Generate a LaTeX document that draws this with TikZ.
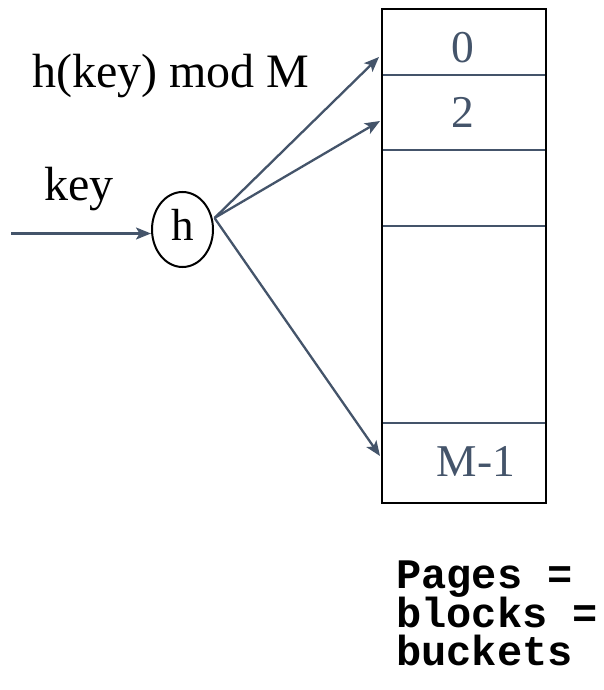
\documentclass[tikz,border=0pt]{standalone}
\usepackage{fontspec}
\setmainfont{Liberation Serif}
\newfontfamily\codefont{Liberation Mono}
\usetikzlibrary{shapes.geometric,arrows.meta}
\definecolor{slate}{HTML}{44546A}

\tikzset{
  lbl/.style={inner sep=0pt, font=\fontsize{48}{52}\selectfont, text=black},
  celltxt/.style={inner sep=0pt, font=\fontsize{45.5}{50}\selectfont, text=slate},
  conn/.style={draw=slate, line width=2.3pt, -{Stealth[length=15pt,width=12pt,inset=3.5pt]}},
  divider/.style={draw=slate, line width=2.3pt},
  hashfn/.style={ellipse, draw=black, line width=2pt, minimum width=61pt, minimum height=75pt,
    inner sep=0pt, font=\fontsize{45}{49}\selectfont, text height=31pt, text depth=10pt},
  bucketbox/.style={rectangle, draw=black, line width=2.8pt, minimum width=164pt, minimum height=494pt, inner sep=0pt},
  note/.style={inner sep=0pt, font=\codefont\bfseries\fontsize{42}{46}\selectfont}
}

\begin{document}
\begin{tikzpicture}[x=1pt, y=-1pt]
  \useasboundingbox (0,0) rectangle (604,690);

  % bucket table
  \node[bucketbox] (table) at (464,256) {};
  \coordinate (d1l) at (383,75);   \coordinate (d1r) at (545,75);
  \coordinate (d2l) at (383,150);  \coordinate (d2r) at (545,150);
  \coordinate (d3l) at (383,226);  \coordinate (d3r) at (545,226);
  \coordinate (d4l) at (383,423);  \coordinate (d4r) at (545,423);
  \draw[divider] (d1l) -- (d1r);
  \draw[divider] (d2l) -- (d2r);
  \draw[divider] (d3l) -- (d3r);
  \draw[divider] (d4l) -- (d4r);

  \node[celltxt] (c0) at (463,47.5) {0};
  \node[celltxt] (c2) at (463,112) {2};
  \node[celltxt] (cm) at (476,461) {M-1};

  % hash function
  \node[hashfn] (hfun) at (182.5,229.5) {h};
  \coordinate (src) at (11,233.5);
  \draw[conn] (src) -- (hfun.west |- src);

  \coordinate (hout) at (214.5,218);
  \coordinate (t0) at (379,57);
  \coordinate (t2) at (380,121);
  \coordinate (tm) at (380,456);
  \draw[conn] (hout) -- (t0);
  \draw[conn] (hout) -- (t2);
  \draw[conn] (hout) -- (tm);

  % labels
  \node[lbl, anchor=base west] (modlbl) at (32,88) {h(key) mod M};
  \node[lbl, anchor=base west] (keylbl) at (44,200.5) {key};

  % footnote, one node per line
  \node[note, anchor=base west] (pages)   at (396,588) {Pages =};
  \node[note, anchor=base west] (blocks)  at (396,627) {blocks =};
  \node[note, anchor=base west] (buckets) at (396,665) {buckets};
\end{tikzpicture}
\end{document}
